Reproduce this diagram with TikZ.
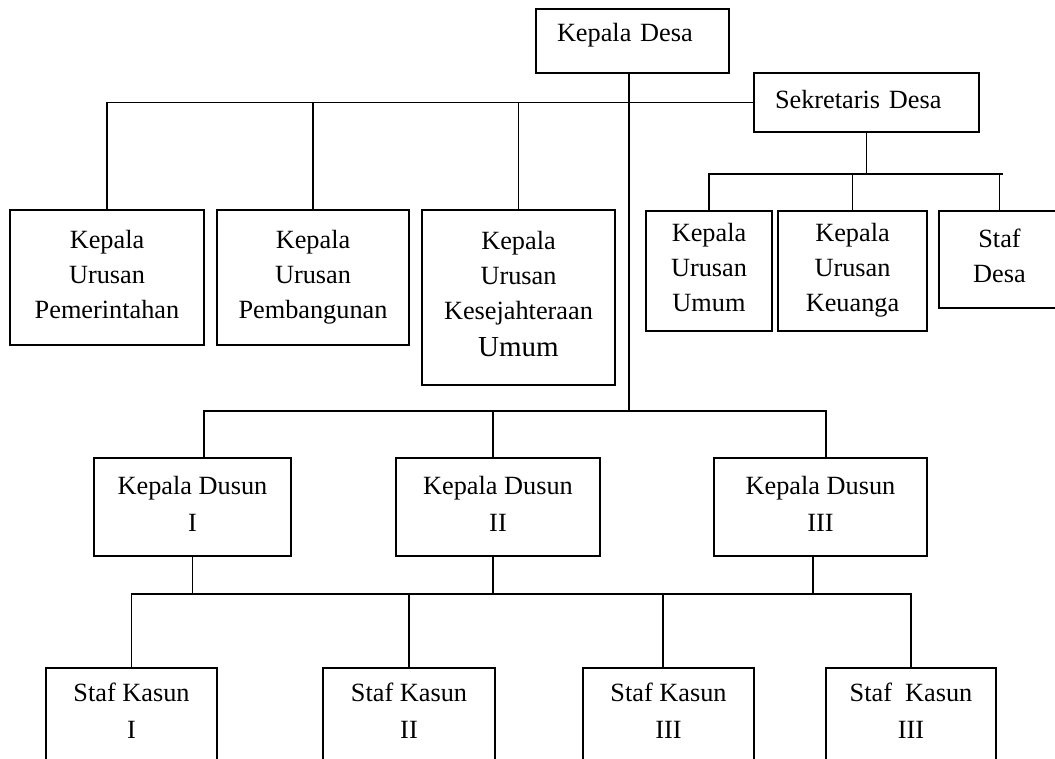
\documentclass[tikz,border=0pt]{standalone}
\usepackage{fontspec}
\setmainfont{Liberation Serif}
\usetikzlibrary{positioning,calc}
\newcommand{\txtsize}{\fontsize{26.3}{35}\selectfont}
\newcommand{\dusunsize}{\fontsize{26.3}{37}\selectfont}

\begin{document}
\begin{tikzpicture}[
  x=1pt, y=-1pt,
  box/.style={draw=black, line width=1.8pt, align=center, inner sep=0pt,
              text depth=7pt, font=\txtsize, text=black},
  headbox/.style={box, align=left, inner xsep=21pt},
  lowbox/.style={box, font=\dusunsize},
  link/.style={draw=black, line width=1.6pt}
]
\useasboundingbox (0,0) rectangle (1055,758);
\clip (0,0) rectangle (1055,758);

% top level
\node[headbox, text width=151pt, text depth=18pt, minimum height=64pt] (kdesa) at (632.5,41) {Kepala Desa};
\node[headbox, text width=183pt, minimum height=59pt] (sekdes) at (866.5,102.5) {Sekretaris Desa};

% kepala urusan under the village head
\node[box, minimum width=194pt, minimum height=135pt] (kupem) at (107,277.5) {Kepala\\Urusan\\Pemerintahan};
\node[box, minimum width=192pt, minimum height=135pt] (kupemb) at (313,277.5) {Kepala\\Urusan\\Pembangunan};
\node[box, minimum width=193pt, minimum height=175pt] (kukes) at (518.5,297.5)
  {Kepala\\Urusan\\Kesejahteraan\\[2pt]{\fontsize{29}{37}\selectfont Umum}};

% secretariat
\node[box, minimum width=126pt, minimum height=120pt] (kuumum) at (709,271) {Kepala\\Urusan\\Umum};
\node[box, minimum width=149pt, minimum height=120pt] (kukeu) at (852.5,271) {Kepala\\Urusan\\Keuanga};
\node[box, minimum width=121pt, minimum height=97pt] (stafdesa) at (999.5,259.5) {Staf\\Desa};

% kepala dusun
\node[lowbox, minimum width=197pt, minimum height=98pt] (kadus1) at (192.5,507) {Kepala Dusun\\I};
\node[lowbox, minimum width=204pt, minimum height=98pt] (kadus2) at (498,507) {Kepala Dusun\\II};
\node[lowbox, minimum width=213pt, minimum height=98pt] (kadus3) at (820.5,507) {Kepala Dusun\\III};

% staf kasun
\node[lowbox, minimum width=171pt, minimum height=92pt] (staf1) at (131.5,714) {Staf Kasun\\I};
\node[lowbox, minimum width=172pt, minimum height=92pt] (staf2) at (409,714) {Staf Kasun\\II};
\node[lowbox, minimum width=171pt, minimum height=92pt] (staf3) at (668.5,714) {Staf Kasun\\III};
\node[lowbox, minimum width=170pt, minimum height=92pt] (staf4) at (911,714) {Staf~~Kasun\\III};

% bus points
\coordinate (spine) at (629,411);
\coordinate (sbus) at (866.5,174);
\coordinate (d1) at (204,411);
\coordinate (d2) at (493,411);
\coordinate (d3) at (826,411);
\coordinate (u2) at (493,594);
\coordinate (u3) at (813,594);
\coordinate (s3) at (663,594);
\coordinate (s4) at (911,594);

% village head lines
\draw[link] (kdesa.south -| spine) -- (spine);
\draw[link] (kupem.north) -- (kupem.north |- sekdes.west) -- (sekdes.west);
\draw[link] (kupemb.north) -- (kupemb.north |- sekdes.west);
\draw[link] (kukes.north) -- (kukes.north |- sekdes.west);

% secretary lines
\draw[link] (sekdes.south) -- (sbus);
\draw[link] (kuumum.north) -- (kuumum.north |- sbus) -- ($(stafdesa.north |- sbus)+(3,0)$);
\draw[link] (kukeu.north) -- (kukeu.north |- sbus);
\draw[link] (stafdesa.north) -- (stafdesa.north |- sbus);

% dusun lines
\draw[link] (d1 |- kadus1.north) -- (d1) -- (d3) -- (d3 |- kadus3.north);
\draw[link] (d2) -- (d2 |- kadus2.north);
\draw[link] (kadus1.south) -- (kadus1.south |- u2);
\draw[link] (u2 |- kadus2.south) -- (u2);
\draw[link] (u3 |- kadus3.south) -- (u3);

% staf kasun lines
\draw[link] (staf1.north) -- (staf1.north |- s4) -- (s4) -- (staf4.north);
\draw[link] (staf2.north) -- (staf2.north |- s4);
\draw[link] (s3) -- (s3 |- staf3.north);
\end{tikzpicture}
\end{document}
